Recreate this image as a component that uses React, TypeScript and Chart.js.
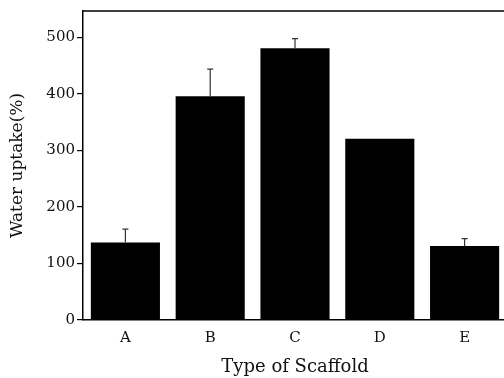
import React, { useEffect, useRef } from "react";
import { Chart, registerables } from "chart.js";

Chart.register(...registerables);

const categories = ["A", "B", "C", "D", "E"];
const uptake = [137, 396, 481, 321, 131];
const uptakeErr = [24, 48, 17, 0, 13];
const yTicks = [0, 100, 200, 300, 400, 500];

const FONT = "'DejaVu Serif', 'Liberation Serif', serif";

const errorBarPlugin = {
  id: "errorBars",
  afterDatasetsDraw(chart: any) {
    const { ctx } = chart;
    const meta = chart.getDatasetMeta(0);
    const yScale = chart.scales.y;
    ctx.save();
    ctx.strokeStyle = "#333";
    ctx.lineWidth = 1.2;
    meta.data.forEach((bar: any, i: number) => {
      const err = uptakeErr[i];
      if (!err) return;
      const x = bar.x;
      const yTop = yScale.getPixelForValue(uptake[i] + err);
      const yBase = yScale.getPixelForValue(uptake[i]);
      ctx.beginPath();
      ctx.moveTo(x, yBase);
      ctx.lineTo(x, yTop);
      ctx.moveTo(x - 3, yTop);
      ctx.lineTo(x + 3, yTop);
      ctx.stroke();
    });
    ctx.restore();
  },
};

const framePlugin = {
  id: "frame",
  afterDraw(chart: any) {
    const { ctx, chartArea } = chart;
    ctx.save();
    ctx.strokeStyle = "#000";
    ctx.lineWidth = 1.5;
    ctx.beginPath();
    ctx.moveTo(chartArea.left, chartArea.top);
    ctx.lineTo(chartArea.right, chartArea.top);
    ctx.lineTo(chartArea.right, chartArea.bottom);
    ctx.stroke();
    ctx.restore();
  },
};

export default function App() {
  const ref = useRef<HTMLCanvasElement>(null);
  useEffect(() => {
    if (!ref.current) return;
    const chart = new Chart(ref.current, {
      type: "bar",
      data: {
        labels: categories,
        datasets: [
          {
            data: uptake,
            backgroundColor: "#000",
            borderWidth: 0,
            categoryPercentage: 1,
            barPercentage: 0.815,
          },
        ],
      },
      plugins: [errorBarPlugin, framePlugin],
      options: {
        animation: false,
        responsive: false,
        devicePixelRatio: 1,
        layout: { padding: { top: 7, right: 3, left: 0, bottom: 0 } },
        plugins: { legend: { display: false }, tooltip: { enabled: false } },
        scales: {
          x: {
            grid: { display: false, drawTicks: false },
            border: { display: true, color: "#000", width: 1.5 },
            ticks: { color: "#111", font: { family: FONT, size: 15 }, padding: 9 },
            title: {
              display: true,
              text: "Type of Scaffold",
              color: "#111",
              font: { family: FONT, size: 18 },
              padding: { top: 9, bottom: 0 },
            },
            afterFit: (s: any) => {
              s.height = 58;
            },
          },
          y: {
            min: 0,
            max: 547,
            ticks: {
              stepSize: 100,
              color: "#111",
              font: { family: FONT, size: 15 },
              padding: 2,
            },
            afterBuildTicks: (s: any) => {
              s.ticks = yTicks.map((v) => ({ value: v }));
            },
            grid: {
              drawOnChartArea: false,
              drawTicks: true,
              tickLength: 6,
              color: "#000",
              lineWidth: 1.2,
            },
            border: { display: true, color: "#000", width: 1.5 },
            title: {
              display: true,
              text: "Water uptake(%)",
              color: "#111",
              font: { family: FONT, size: 17 },
              padding: { top: 7, bottom: 0 },
            },
            afterFit: (s: any) => {
              s.width = 83;
            },
          },
        },
      },
    });
    return () => chart.destroy();
  }, []);
  return (
    <div
      style={{
        position: "absolute",
        left: 0,
        top: 0,
        width: 504,
        height: 378,
        overflow: "hidden",
        background: "#fff",
      }}
    >
      <canvas ref={ref} width={510} height={378} style={{ display: "block" }} />
    </div>
  );
}
